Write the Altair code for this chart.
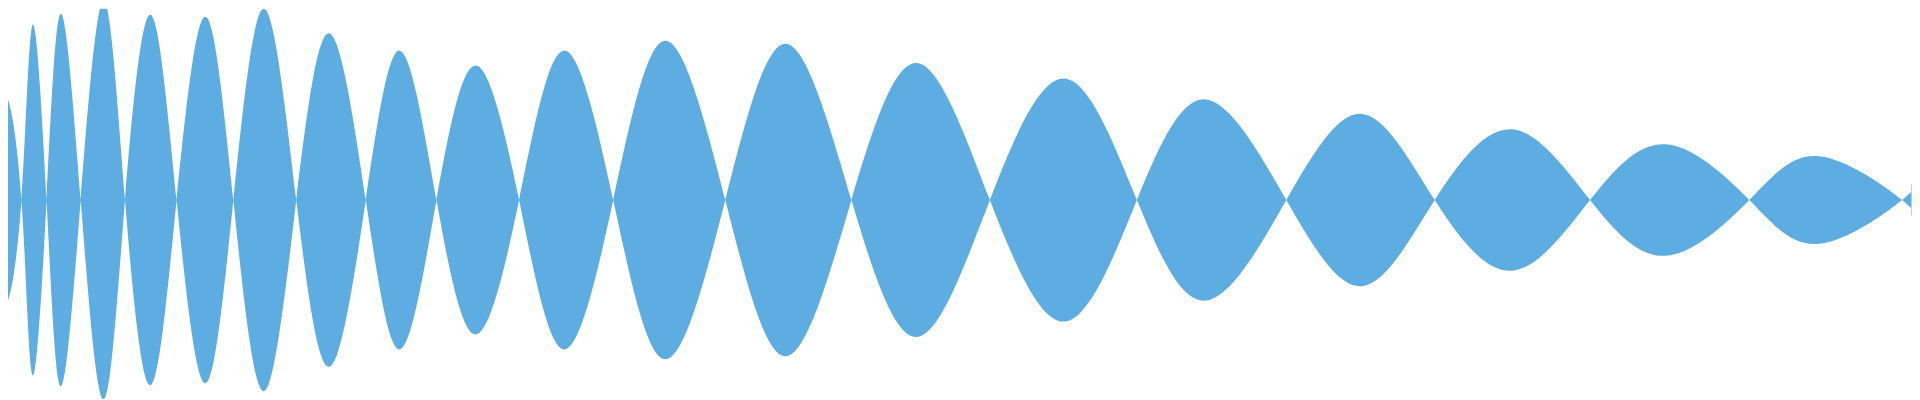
import altair as alt
import pandas as pd

# Values: x in the chart's own horizontal units,
# amplitude measured from the centre line (the shape is mirrored about it).
start_x = 0
start_amp = 60
peak_x = [6, 32.7, 61, 104, 151, 206, 265, 330.7, 401.5, 477.5, 566, 668, 789.3,
          921, 1069.3, 1210.7, 1367.3, 1518.3, 1672.3, 1826.7]
peak_amp = [105, 176, 187, 200, 186, 184, 192, 167.5, 150, 135, 150, 160, 157,
            137.5, 122, 101, 86.5, 71, 56, 44]
cross_x = [21.5, 46.7, 81, 125.5, 177.3, 234.3, 297.5, 367.3, 438.3, 521.2,
           615.8, 728.3, 855, 994, 1141.7, 1291.7, 1440.7, 1596.7, 1756.7, 1910]
end_x = 1919.5
end_amp = 16

xs = [start_x]
vs = [start_amp]
for i, (px, pa, cx) in enumerate(zip(peak_x, peak_amp, cross_x)):
    sign = 1 if i % 2 == 0 else -1
    xs += [px, cx]
    vs += [sign * pa, 0]
xs.append(end_x)
vs.append(end_amp if len(peak_x) % 2 == 0 else -end_amp)

df = pd.DataFrame({"x": xs, "v": vs})

chart = (
    alt.Chart(df)
    .transform_calculate(lower="-datum.v")
    .mark_area(color="#5DADE2", interpolate="natural", clip=True)
    .encode(
        x=alt.X("x:Q", scale=alt.Scale(domain=[8, 1920], nice=False, zero=False), axis=None),
        y=alt.Y("v:Q", scale=alt.Scale(domain=[-200, 192], nice=False, zero=False), axis=None),
        y2="lower:Q",
    )
    .properties(width=1912, height=392, padding=0)
    .configure_view(stroke=None)
)

chart.save("out.html", embed_options={"renderer": "svg", "actions": False})
